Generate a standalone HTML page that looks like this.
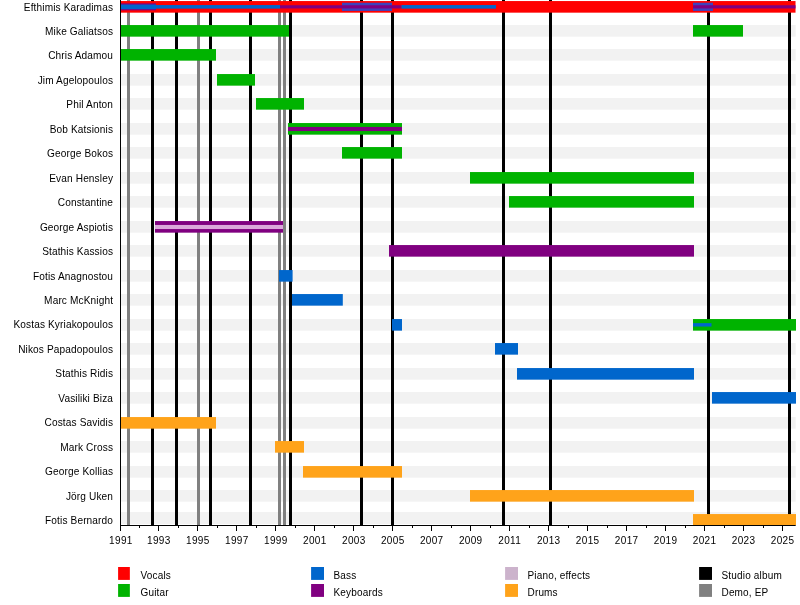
<!DOCTYPE html><html><head><meta charset="utf-8"><style>html,body{margin:0;padding:0;background:#fff;}svg{display:block} #w{will-change:transform;width:800px;height:605px}</style></head><body>
<div id="w">
<svg width="800" height="605" viewBox="0 0 800 605" font-family="Liberation Sans, sans-serif">
<rect x="0" y="0" width="800" height="605" fill="#fff"/>
<rect x="120" y="1.05" width="675.70" height="11.6" fill="#f2f2f2"/>
<rect x="120" y="25.05" width="675.70" height="11.6" fill="#f2f2f2"/>
<rect x="120" y="49.05" width="675.70" height="11.6" fill="#f2f2f2"/>
<rect x="120" y="74.05" width="675.70" height="11.6" fill="#f2f2f2"/>
<rect x="120" y="98.05" width="675.70" height="11.6" fill="#f2f2f2"/>
<rect x="120" y="123.05" width="675.70" height="11.6" fill="#f2f2f2"/>
<rect x="120" y="147.05" width="675.70" height="11.6" fill="#f2f2f2"/>
<rect x="120" y="172.05" width="675.70" height="11.6" fill="#f2f2f2"/>
<rect x="120" y="196.05" width="675.70" height="11.6" fill="#f2f2f2"/>
<rect x="120" y="221.05" width="675.70" height="11.6" fill="#f2f2f2"/>
<rect x="120" y="245.05" width="675.70" height="11.6" fill="#f2f2f2"/>
<rect x="120" y="270.05" width="675.70" height="11.6" fill="#f2f2f2"/>
<rect x="120" y="294.05" width="675.70" height="11.6" fill="#f2f2f2"/>
<rect x="120" y="319.05" width="675.70" height="11.6" fill="#f2f2f2"/>
<rect x="120" y="343.05" width="675.70" height="11.6" fill="#f2f2f2"/>
<rect x="120" y="368.05" width="675.70" height="11.6" fill="#f2f2f2"/>
<rect x="120" y="392.05" width="675.70" height="11.6" fill="#f2f2f2"/>
<rect x="120" y="417.05" width="675.70" height="11.6" fill="#f2f2f2"/>
<rect x="120" y="441.05" width="675.70" height="11.6" fill="#f2f2f2"/>
<rect x="120" y="466.05" width="675.70" height="11.6" fill="#f2f2f2"/>
<rect x="120" y="490.05" width="675.70" height="11.6" fill="#f2f2f2"/>
<rect x="120" y="512.00" width="675.70" height="12.1" fill="#f2f2f2"/>
<rect x="127" y="0" width="3" height="525.3" fill="#808080"/>
<rect x="151" y="0" width="3" height="525.3" fill="#000000"/>
<rect x="175" y="0" width="3" height="525.3" fill="#000000"/>
<rect x="197" y="0" width="3" height="525.3" fill="#808080"/>
<rect x="209" y="0" width="3" height="525.3" fill="#000000"/>
<rect x="249" y="0" width="3" height="525.3" fill="#000000"/>
<rect x="278" y="0" width="3" height="525.3" fill="#808080"/>
<rect x="283" y="0" width="3" height="525.3" fill="#808080"/>
<rect x="289" y="0" width="3" height="525.3" fill="#000000"/>
<rect x="360" y="0" width="3" height="525.3" fill="#000000"/>
<rect x="391" y="0" width="3" height="525.3" fill="#000000"/>
<rect x="502" y="0" width="3" height="525.3" fill="#000000"/>
<rect x="549" y="0" width="3" height="525.3" fill="#000000"/>
<rect x="707" y="0" width="3" height="525.3" fill="#000000"/>
<rect x="788" y="0" width="3" height="525.3" fill="#000000"/>
<rect x="121" y="1.05" width="674.50" height="11.60" fill="#ff0000"/>
<rect x="121" y="3.35" width="35.00" height="7.00" fill="#800080"/>
<rect x="342" y="2.75" width="50.00" height="8.20" fill="#3d42bc"/>
<rect x="693" y="2.75" width="20.00" height="8.20" fill="#3d42bc"/>
<rect x="121" y="4.55" width="35.00" height="4.60" fill="#0066cc"/>
<rect x="156" y="5.05" width="124.00" height="3.60" fill="#0066cc"/>
<rect x="280" y="5.25" width="121.50" height="3.20" fill="#800080"/>
<rect x="401.5" y="5.05" width="94.50" height="3.60" fill="#0066cc"/>
<rect x="693" y="5.25" width="102.50" height="3.20" fill="#800080"/>
<rect x="121" y="25.05" width="168.00" height="11.60" fill="#00b300"/>
<rect x="693" y="25.05" width="50.00" height="11.60" fill="#00b300"/>
<rect x="121" y="49.05" width="95.00" height="11.60" fill="#00b300"/>
<rect x="217" y="74.05" width="38.00" height="11.60" fill="#00b300"/>
<rect x="256" y="98.05" width="48.00" height="11.60" fill="#00b300"/>
<rect x="288" y="123.05" width="114.00" height="11.60" fill="#00b300"/>
<rect x="288" y="126.95" width="114.00" height="4.10" fill="#800080"/>
<rect x="342" y="147.05" width="60.00" height="11.60" fill="#00b300"/>
<rect x="470" y="172.05" width="224.00" height="11.60" fill="#00b300"/>
<rect x="509" y="196.05" width="185.00" height="11.60" fill="#00b300"/>
<rect x="155" y="221.05" width="128.00" height="11.60" fill="#800080"/>
<rect x="155" y="224.95" width="128.00" height="4.10" fill="#dba8db"/>
<rect x="389" y="245.05" width="305.00" height="11.60" fill="#800080"/>
<rect x="279" y="270.05" width="13.60" height="11.60" fill="#0066cc"/>
<rect x="292" y="294.05" width="50.80" height="11.60" fill="#0066cc"/>
<rect x="392" y="319.05" width="10.00" height="11.60" fill="#0066cc"/>
<rect x="693" y="319.05" width="103.00" height="11.60" fill="#00b300"/>
<rect x="693" y="323.15" width="18.50" height="3.40" fill="#0066cc"/>
<rect x="495" y="343.05" width="23.00" height="11.60" fill="#0066cc"/>
<rect x="517" y="368.05" width="177.00" height="11.60" fill="#0066cc"/>
<rect x="712" y="392.05" width="84.00" height="11.60" fill="#0066cc"/>
<rect x="121" y="417.05" width="95.00" height="11.60" fill="#ffa31a"/>
<rect x="275" y="441.05" width="29.00" height="11.60" fill="#ffa31a"/>
<rect x="303" y="466.05" width="99.00" height="11.60" fill="#ffa31a"/>
<rect x="470" y="490.05" width="224.00" height="11.60" fill="#ffa31a"/>
<rect x="693" y="514.05" width="103.00" height="11.00" fill="#ffa31a"/>
<rect x="120" y="0" width="1" height="526" fill="#000"/>
<rect x="120" y="525" width="675.7" height="1" fill="#000"/>
<rect x="120" y="525" width="1" height="6" fill="#000"/>
<text x="120.90" y="544" font-size="10" letter-spacing="0.33" text-anchor="middle" fill="#000">1991</text>
<rect x="139" y="525" width="1" height="3" fill="#000"/>
<rect x="158" y="525" width="1" height="6" fill="#000"/>
<text x="158.88" y="544" font-size="10" letter-spacing="0.33" text-anchor="middle" fill="#000">1993</text>
<rect x="178" y="525" width="1" height="3" fill="#000"/>
<rect x="197" y="525" width="1" height="6" fill="#000"/>
<text x="197.86" y="544" font-size="10" letter-spacing="0.33" text-anchor="middle" fill="#000">1995</text>
<rect x="217" y="525" width="1" height="3" fill="#000"/>
<rect x="236" y="525" width="1" height="6" fill="#000"/>
<text x="236.84" y="544" font-size="10" letter-spacing="0.33" text-anchor="middle" fill="#000">1997</text>
<rect x="256" y="525" width="1" height="3" fill="#000"/>
<rect x="275" y="525" width="1" height="6" fill="#000"/>
<text x="275.82" y="544" font-size="10" letter-spacing="0.33" text-anchor="middle" fill="#000">1999</text>
<rect x="295" y="525" width="1" height="3" fill="#000"/>
<rect x="314" y="525" width="1" height="6" fill="#000"/>
<text x="314.80" y="544" font-size="10" letter-spacing="0.33" text-anchor="middle" fill="#000">2001</text>
<rect x="334" y="525" width="1" height="3" fill="#000"/>
<rect x="353" y="525" width="1" height="6" fill="#000"/>
<text x="353.78" y="544" font-size="10" letter-spacing="0.33" text-anchor="middle" fill="#000">2003</text>
<rect x="373" y="525" width="1" height="3" fill="#000"/>
<rect x="392" y="525" width="1" height="6" fill="#000"/>
<text x="392.76" y="544" font-size="10" letter-spacing="0.33" text-anchor="middle" fill="#000">2005</text>
<rect x="412" y="525" width="1" height="3" fill="#000"/>
<rect x="431" y="525" width="1" height="6" fill="#000"/>
<text x="431.74" y="544" font-size="10" letter-spacing="0.33" text-anchor="middle" fill="#000">2007</text>
<rect x="451" y="525" width="1" height="3" fill="#000"/>
<rect x="470" y="525" width="1" height="6" fill="#000"/>
<text x="470.72" y="544" font-size="10" letter-spacing="0.33" text-anchor="middle" fill="#000">2009</text>
<rect x="490" y="525" width="1" height="3" fill="#000"/>
<rect x="509" y="525" width="1" height="6" fill="#000"/>
<text x="509.70" y="544" font-size="10" letter-spacing="0.33" text-anchor="middle" fill="#000">2011</text>
<rect x="529" y="525" width="1" height="3" fill="#000"/>
<rect x="548" y="525" width="1" height="6" fill="#000"/>
<text x="548.68" y="544" font-size="10" letter-spacing="0.33" text-anchor="middle" fill="#000">2013</text>
<rect x="568" y="525" width="1" height="3" fill="#000"/>
<rect x="587" y="525" width="1" height="6" fill="#000"/>
<text x="587.66" y="544" font-size="10" letter-spacing="0.33" text-anchor="middle" fill="#000">2015</text>
<rect x="607" y="525" width="1" height="3" fill="#000"/>
<rect x="626" y="525" width="1" height="6" fill="#000"/>
<text x="626.64" y="544" font-size="10" letter-spacing="0.33" text-anchor="middle" fill="#000">2017</text>
<rect x="646" y="525" width="1" height="3" fill="#000"/>
<rect x="665" y="525" width="1" height="6" fill="#000"/>
<text x="665.62" y="544" font-size="10" letter-spacing="0.33" text-anchor="middle" fill="#000">2019</text>
<rect x="685" y="525" width="1" height="3" fill="#000"/>
<rect x="704" y="525" width="1" height="6" fill="#000"/>
<text x="704.60" y="544" font-size="10" letter-spacing="0.33" text-anchor="middle" fill="#000">2021</text>
<rect x="724" y="525" width="1" height="3" fill="#000"/>
<rect x="743" y="525" width="1" height="6" fill="#000"/>
<text x="743.58" y="544" font-size="10" letter-spacing="0.33" text-anchor="middle" fill="#000">2023</text>
<rect x="763" y="525" width="1" height="3" fill="#000"/>
<rect x="782" y="525" width="1" height="6" fill="#000"/>
<text x="782.56" y="544" font-size="10" letter-spacing="0.33" text-anchor="middle" fill="#000">2025</text>
<text x="113.1" y="10.56" font-size="10.1" letter-spacing="0.13" text-anchor="end" fill="#000">Efthimis Karadimas</text>
<text x="113.1" y="35.01" font-size="10.1" letter-spacing="0.13" text-anchor="end" fill="#000">Mike Galiatsos</text>
<text x="113.1" y="59.46" font-size="10.1" letter-spacing="0.13" text-anchor="end" fill="#000">Chris Adamou</text>
<text x="113.1" y="83.91" font-size="10.1" letter-spacing="0.13" text-anchor="end" fill="#000">Jim Agelopoulos</text>
<text x="113.1" y="108.36" font-size="10.1" letter-spacing="0.13" text-anchor="end" fill="#000">Phil Anton</text>
<text x="113.1" y="132.81" font-size="10.1" letter-spacing="0.13" text-anchor="end" fill="#000">Bob Katsionis</text>
<text x="113.1" y="157.26" font-size="10.1" letter-spacing="0.13" text-anchor="end" fill="#000">George Bokos</text>
<text x="113.1" y="181.71" font-size="10.1" letter-spacing="0.13" text-anchor="end" fill="#000">Evan Hensley</text>
<text x="113.1" y="206.16" font-size="10.1" letter-spacing="0.13" text-anchor="end" fill="#000">Constantine</text>
<text x="113.1" y="230.61" font-size="10.1" letter-spacing="0.13" text-anchor="end" fill="#000">George Aspiotis</text>
<text x="113.1" y="255.06" font-size="10.1" letter-spacing="0.13" text-anchor="end" fill="#000">Stathis Kassios</text>
<text x="113.1" y="279.51" font-size="10.1" letter-spacing="0.13" text-anchor="end" fill="#000">Fotis Anagnostou</text>
<text x="113.1" y="303.96" font-size="10.1" letter-spacing="0.13" text-anchor="end" fill="#000">Marc McKnight</text>
<text x="113.1" y="328.41" font-size="10.1" letter-spacing="0.13" text-anchor="end" fill="#000">Kostas Kyriakopoulos</text>
<text x="113.1" y="352.86" font-size="10.1" letter-spacing="0.13" text-anchor="end" fill="#000">Nikos Papadopoulos</text>
<text x="113.1" y="377.31" font-size="10.1" letter-spacing="0.13" text-anchor="end" fill="#000">Stathis Ridis</text>
<text x="113.1" y="401.76" font-size="10.1" letter-spacing="0.13" text-anchor="end" fill="#000">Vasiliki Biza</text>
<text x="113.1" y="426.21" font-size="10.1" letter-spacing="0.13" text-anchor="end" fill="#000">Costas Savidis</text>
<text x="113.1" y="450.66" font-size="10.1" letter-spacing="0.13" text-anchor="end" fill="#000">Mark Cross</text>
<text x="113.1" y="475.11" font-size="10.1" letter-spacing="0.13" text-anchor="end" fill="#000">George Kollias</text>
<text x="113.1" y="499.56" font-size="10.1" letter-spacing="0.13" text-anchor="end" fill="#000">Jörg Uken</text>
<text x="113.1" y="524.01" font-size="10.1" letter-spacing="0.13" text-anchor="end" fill="#000">Fotis Bernardo</text>
<rect x="118.1" y="567" width="11.75" height="12.9" fill="#ff0000"/>
<text x="140.5" y="578.8" font-size="10" letter-spacing="0.17" fill="#000">Vocals</text>
<rect x="118.1" y="584" width="11.75" height="12.9" fill="#00b300"/>
<text x="140.5" y="595.8" font-size="10" letter-spacing="0.17" fill="#000">Guitar</text>
<rect x="311.1" y="567" width="12.9" height="12.9" fill="#0066cc"/>
<text x="333.5" y="578.8" font-size="10" letter-spacing="0.17" fill="#000">Bass</text>
<rect x="311.1" y="584" width="12.9" height="12.9" fill="#800080"/>
<text x="333.5" y="595.8" font-size="10" letter-spacing="0.17" fill="#000">Keyboards</text>
<rect x="505.1" y="567" width="12.9" height="12.9" fill="#ccb3cc"/>
<text x="527.5" y="578.8" font-size="10" letter-spacing="0.17" fill="#000">Piano, effects</text>
<rect x="505.1" y="584" width="12.9" height="12.9" fill="#ffa31a"/>
<text x="527.5" y="595.8" font-size="10" letter-spacing="0.17" fill="#000">Drums</text>
<rect x="699.1" y="567" width="12.9" height="12.9" fill="#000000"/>
<text x="721.5" y="578.8" font-size="10" letter-spacing="0.17" fill="#000">Studio album</text>
<rect x="699.1" y="584" width="12.9" height="12.9" fill="#808080"/>
<text x="721.5" y="595.8" font-size="10" letter-spacing="0.17" fill="#000">Demo, EP</text>
</svg></div></body></html>
